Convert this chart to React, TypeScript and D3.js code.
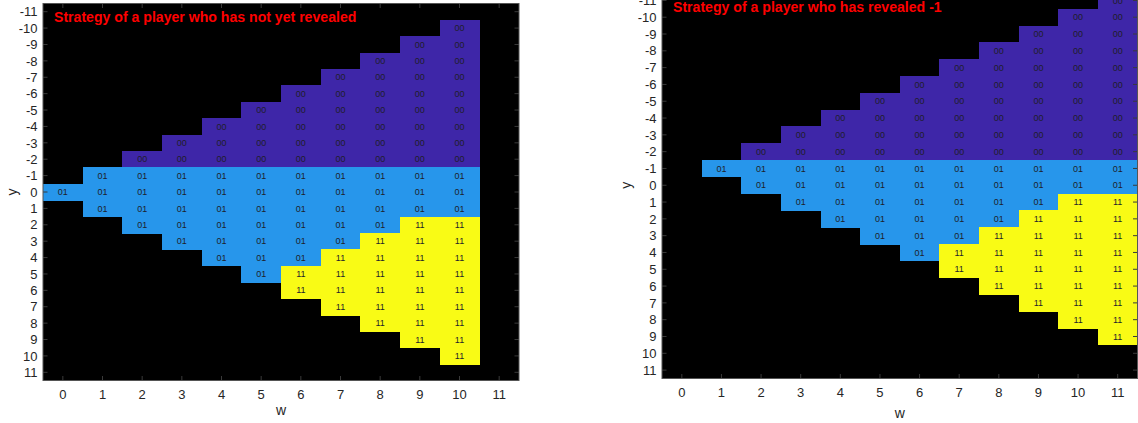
import React from "react";
import * as d3 from "d3";

// Wealth levels on the horizontal axis and position levels on the vertical axis.
const wValues = [0, 1, 2, 3, 4, 5, 6, 7, 8, 9, 10, 11];
const yValues = [-11, -10, -9, -8, -7, -6, -5, -4, -3, -2, -1, 0, 1, 2, 3, 4, 5, 6, 7, 8, 9, 10, 11];

// Strategy codes, one row per y (from -11 to 11), one token per w (0..11); ".." = unreachable state.
const notRevealedRows = [
  ".. .. .. .. .. .. .. .. .. .. .. ..",
  ".. .. .. .. .. .. .. .. .. .. 00 ..",
  ".. .. .. .. .. .. .. .. .. 00 00 ..",
  ".. .. .. .. .. .. .. .. 00 00 00 ..",
  ".. .. .. .. .. .. .. 00 00 00 00 ..",
  ".. .. .. .. .. .. 00 00 00 00 00 ..",
  ".. .. .. .. .. 00 00 00 00 00 00 ..",
  ".. .. .. .. 00 00 00 00 00 00 00 ..",
  ".. .. .. 00 00 00 00 00 00 00 00 ..",
  ".. .. 00 00 00 00 00 00 00 00 00 ..",
  ".. 01 01 01 01 01 01 01 01 01 01 ..",
  "01 01 01 01 01 01 01 01 01 01 01 ..",
  ".. 01 01 01 01 01 01 01 01 01 01 ..",
  ".. .. 01 01 01 01 01 01 01 11 11 ..",
  ".. .. .. 01 01 01 01 01 11 11 11 ..",
  ".. .. .. .. 01 01 01 11 11 11 11 ..",
  ".. .. .. .. .. 01 11 11 11 11 11 ..",
  ".. .. .. .. .. .. 11 11 11 11 11 ..",
  ".. .. .. .. .. .. .. 11 11 11 11 ..",
  ".. .. .. .. .. .. .. .. 11 11 11 ..",
  ".. .. .. .. .. .. .. .. .. 11 11 ..",
  ".. .. .. .. .. .. .. .. .. .. 11 ..",
  ".. .. .. .. .. .. .. .. .. .. .. ..",
];

const revealedRows = [
  ".. .. .. .. .. .. .. .. .. .. .. 00",
  ".. .. .. .. .. .. .. .. .. .. 00 00",
  ".. .. .. .. .. .. .. .. .. 00 00 00",
  ".. .. .. .. .. .. .. .. 00 00 00 00",
  ".. .. .. .. .. .. .. 00 00 00 00 00",
  ".. .. .. .. .. .. 00 00 00 00 00 00",
  ".. .. .. .. .. 00 00 00 00 00 00 00",
  ".. .. .. .. 00 00 00 00 00 00 00 00",
  ".. .. .. 00 00 00 00 00 00 00 00 00",
  ".. .. 00 00 00 00 00 00 00 00 00 00",
  ".. 01 01 01 01 01 01 01 01 01 01 01",
  ".. .. 01 01 01 01 01 01 01 01 01 01",
  ".. .. .. 01 01 01 01 01 01 01 11 11",
  ".. .. .. .. 01 01 01 01 01 11 11 11",
  ".. .. .. .. .. 01 01 01 11 11 11 11",
  ".. .. .. .. .. .. 01 11 11 11 11 11",
  ".. .. .. .. .. .. .. 11 11 11 11 11",
  ".. .. .. .. .. .. .. .. 11 11 11 11",
  ".. .. .. .. .. .. .. .. .. 11 11 11",
  ".. .. .. .. .. .. .. .. .. .. 11 11",
  ".. .. .. .. .. .. .. .. .. .. .. 11",
  ".. .. .. .. .. .. .. .. .. .. .. ..",
  ".. .. .. .. .. .. .. .. .. .. .. ..",
];

const panelTitles = [
  "Strategy of a player who has not yet revealed",
  "Strategy of a player who has revealed -1",
];

const codeColor: Record<string, string> = {
  "00": "rgb(62,38,168)",
  "01": "rgb(39,150,235)",
  "11": "rgb(249,251,21)",
};

const FONT = "'Liberation Sans', Arial, Helvetica, sans-serif";
const AXIS_COLOR = "#262626";

type Cell = { w: number; y: number; code: string };

function parseGrid(rows: string[]): Cell[] {
  const cells: Cell[] = [];
  rows.forEach((row, ri) => {
    row.split(" ").forEach((tok, ci) => {
      if (tok !== "..") cells.push({ w: wValues[ci], y: yValues[ri], code: tok });
    });
  });
  return cells;
}

type PanelProps = {
  rows: string[];
  title: string;
  left: number;
  right: number;
  top: number;
  bottom: number;
  titleY: number;
  xLabelY: number;
  yLabelX: number;
};

function Panel({ rows, title, left, right, top, bottom, titleY, xLabelY, yLabelX }: PanelProps) {
  const x = d3.scaleLinear().domain([-0.5, 11.5]).range([left, right]);
  const y = d3.scaleLinear().domain([-11.5, 11.5]).range([top, bottom]);
  const cells = parseGrid(rows);
  const tickLen = 4.5;
  const clipId = `clip-${Math.round(left)}`;

  return (
    <g>
      <defs>
        <clipPath id={clipId}>
          <rect x={left} y={top} width={right - left} height={bottom - top} />
        </clipPath>
      </defs>
      <rect x={left} y={top} width={right - left} height={bottom - top} fill="#000" />
      <g clipPath={`url(#${clipId})`}>
        <g shapeRendering="crispEdges">
          {cells.map((c, i) => (
            <rect
              key={`r${i}`}
              x={x(c.w - 0.5)}
              y={y(c.y - 0.5)}
              width={x(c.w + 0.5) - x(c.w - 0.5) + 0.6}
              height={y(c.y + 0.5) - y(c.y - 0.5) + 0.6}
              fill={codeColor[c.code]}
            />
          ))}
        </g>
        {cells.map((c, i) => (
          <text
            key={`t${i}`}
            x={x(c.w)}
            y={y(c.y)}
            dy="0.35em"
            textAnchor="middle"
            fontSize={9}
            fontFamily={FONT}
            fill="#1e1e2a"
          >
            {c.code}
          </text>
        ))}
        {/* inward tick marks on all four sides */}
        {wValues.map((w) => (
          <g key={`xt${w}`} stroke="#3a3a3a" strokeWidth={1}>
            <line x1={x(w)} x2={x(w)} y1={bottom} y2={bottom - tickLen} />
            <line x1={x(w)} x2={x(w)} y1={top} y2={top + tickLen} />
          </g>
        ))}
        {yValues.map((v) => (
          <g key={`yt${v}`} stroke="#3a3a3a" strokeWidth={1}>
            <line x1={left} x2={left + tickLen} y1={y(v)} y2={y(v)} />
            <line x1={right} x2={right - tickLen} y1={y(v)} y2={y(v)} />
          </g>
        ))}
      </g>
      <rect
        x={left}
        y={top}
        width={right - left}
        height={bottom - top}
        fill="none"
        stroke="#555"
        strokeWidth={1}
      />
      {wValues.map((w) => (
        <text
          key={`xl${w}`}
          x={x(w)}
          y={bottom + 18.5}
          textAnchor="middle"
          fontSize={13}
          fontFamily={FONT}
          fill={AXIS_COLOR}
        >
          {w}
        </text>
      ))}
      {yValues.map((v) => (
        <text
          key={`yl${v}`}
          x={left - 5.5}
          y={y(v)}
          dy="0.36em"
          textAnchor="end"
          fontSize={13}
          fontFamily={FONT}
          fill={AXIS_COLOR}
        >
          {v}
        </text>
      ))}
      <text
        x={(left + right) / 2}
        y={xLabelY}
        textAnchor="middle"
        fontSize={14}
        fontFamily={FONT}
        fill={AXIS_COLOR}
      >
        w
      </text>
      <text
        transform={`translate(${yLabelX},${(top + bottom) / 2}) rotate(-90)`}
        textAnchor="middle"
        fontSize={14}
        fontFamily={FONT}
        fill={AXIS_COLOR}
      >
        y
      </text>
      <text
        x={left + 11}
        y={titleY}
        fontSize={14.1}
        fontWeight="bold"
        fontFamily={FONT}
        fill="#ff0000"
      >
        {title}
      </text>
    </g>
  );
}

export default function App() {
  return (
    <svg
      width={1138}
      height={423}
      style={{ position: "absolute", left: 0, top: 0, background: "#fff" }}
    >
      <rect width={1138} height={423} fill="#fff" />
      <Panel
        rows={notRevealedRows}
        title={panelTitles[0]}
        left={43}
        right={519}
        top={3.5}
        bottom={380.5}
        titleY={22.3}
        xLabelY={415}
        yLabelX={17}
      />
      <Panel
        rows={revealedRows}
        title={panelTitles[1]}
        left={662}
        right={1137.5}
        top={-8}
        bottom={378.5}
        titleY={12.3}
        xLabelY={418}
        yLabelX={631}
      />
    </svg>
  );
}
